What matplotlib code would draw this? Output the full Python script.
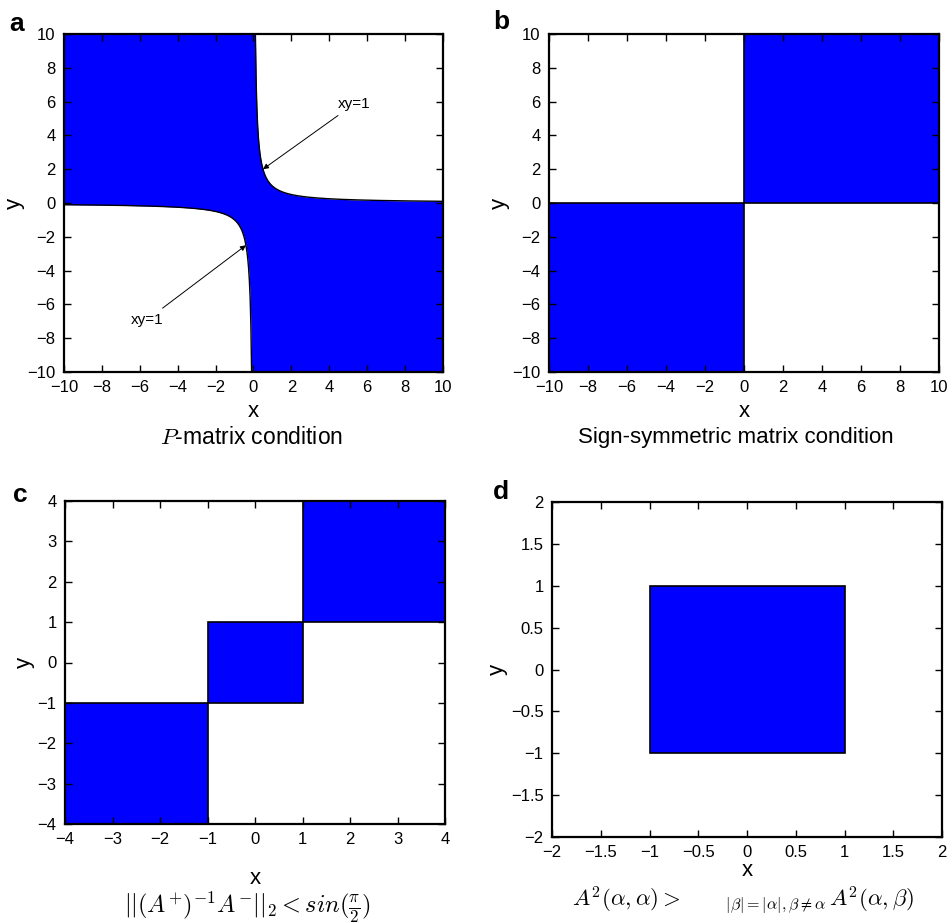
import numpy as np
import matplotlib
matplotlib.use('Agg')
import matplotlib.pyplot as plt
from matplotlib.patches import Rectangle

plt.rcParams['font.family'] = ['Liberation Sans', 'DejaVu Sans']
plt.rcParams['mathtext.fontset'] = 'cm'

W, H = 952, 923
BLUE = '#0000ff'

# panel a: region xy < 1
xy_level = 1
lim_a = [-10, 10]
ticks_a = [-10, -8, -6, -4, -2, 0, 2, 4, 6, 8, 10]

# panel b: sign-symmetric quadrants (x0, x1, y0, y1)
boxes_b = [(0, 10, 0, 10), (-10, 0, -10, 0)]
lim_b = [-10, 10]
ticks_b = ticks_a

# panel c: three squares along the diagonal
boxes_c = [(-4, -1, -4, -1), (-1, 1, -1, 1), (1, 4, 1, 4)]
lim_c = [-4, 4]
ticks_c = [-4, -3, -2, -1, 0, 1, 2, 3, 4]

# panel d: one square
boxes_d = [(-1, 1, -1, 1)]
lim_d = [-2, 2]
ticks_d = [-2, -1.5, -1, -0.5, 0, 0.5, 1, 1.5, 2]
tick_labels_d = ['\u22122', '\u22121.5', '\u22121', '\u22120.5', '0', '0.5', '1', '1.5', '2']

fig = plt.figure(figsize=(W / 100, H / 100), dpi=100)


def px_axes(l, t, r, b):
    return fig.add_axes([l / W, 1 - b / H, (r - l) / W, (b - t) / H])


def style(ax, lim, ticks, xpad=4):
    ax.set_xlim(lim)
    ax.set_ylim(lim)
    ax.set_xticks(ticks)
    ax.set_yticks(ticks)
    ax.tick_params(direction='in', top=True, right=True, length=5, width=1,
                   labelsize=12, pad=6)
    for s in ax.spines.values():
        s.set_linewidth(1.6)
    ax.set_xlabel('x', fontsize=16, labelpad=xpad)
    ax.set_ylabel('y', fontsize=16, labelpad=2)


def draw_boxes(ax, boxes):
    for x0, x1, y0, y1 in boxes:
        ax.add_patch(Rectangle((x0, y0), x1 - x0, y1 - y0, facecolor=BLUE,
                               edgecolor='black', lw=1.2, zorder=1))


# a
ax = px_axes(64, 34, 443, 372)
xs = np.linspace(lim_a[0], lim_a[1], 4001)
with np.errstate(divide='ignore'):
    hyp = xy_level / xs
upper = np.where(xs < 0, lim_a[1], np.clip(hyp, lim_a[0], lim_a[1]))
lower = np.where(xs > 0, lim_a[0], np.clip(hyp, lim_a[0], lim_a[1]))
upper[xs == 0] = lim_a[1]
lower[xs == 0] = lim_a[0]
ax.fill_between(xs, lower, upper, color=BLUE, lw=0, zorder=1)
xp = np.linspace(xy_level / lim_a[1], lim_a[1], 500)
ax.plot(xp, xy_level / xp, color='black', lw=1, zorder=2)
ax.plot(-xp, -xy_level / xp, color='black', lw=1, zorder=2)
ax.annotate('xy=1', xy=(0.5, 2.0), xytext=(5.3, 5.85), fontsize=11,
            ha='center', va='center',
            arrowprops=dict(arrowstyle='-|>', lw=0.7, color='black',
                            mutation_scale=8, shrinkA=2, shrinkB=0))
ax.annotate('xy=1', xy=(-0.4, -2.5), xytext=(-5.6, -6.9), fontsize=11,
            ha='center', va='center',
            arrowprops=dict(arrowstyle='-|>', lw=0.7, color='black',
                            mutation_scale=8, shrinkA=2, shrinkB=0))
style(ax, lim_a, ticks_a)

# b
ax = px_axes(549, 34, 939, 372)
draw_boxes(ax, boxes_b)
style(ax, lim_b, ticks_b)

# c
ax = px_axes(65, 501, 445, 824)
draw_boxes(ax, boxes_c)
style(ax, lim_c, ticks_c, xpad=15)

# d
ax = px_axes(552, 502, 942, 837)
draw_boxes(ax, boxes_d)
style(ax, lim_d, ticks_d, xpad=0)
ax.set_xticklabels(tick_labels_d)
ax.set_yticklabels(tick_labels_d)

# panel letters
for lbl, x, y in [('a', 17, 24), ('b', 501, 22), ('c', 20, 495), ('d', 501, 492)]:
    fig.text(x / W, 1 - y / H, lbl, fontsize=19, fontweight='bold',
             ha='center', va='center')

# captions
fig.text(252 / W, 1 - 437 / H, r'$P$-matrix condition', fontsize=16.5,
         ha='center', va='center')
fig.text(736 / W, 1 - 437 / H, 'Sign-symmetric matrix condition', fontsize=16,
         ha='center', va='center')
fig.text(247 / W, 1 - 907 / H, r'$||(A^{+})^{-1}A^{-}||_2 < sin(\frac{\pi}{2})$',
         fontsize=17.5, ha='center', va='center')
fig.text(743 / W, 1 - 900 / H,
         r'$A^2(\alpha,\alpha) >\qquad_{|\beta|=|\alpha|,\beta\neq\alpha}\,A^2(\alpha,\beta)$',
         fontsize=16.5, ha='center', va='center')

fig.savefig('out.png', dpi=100)
